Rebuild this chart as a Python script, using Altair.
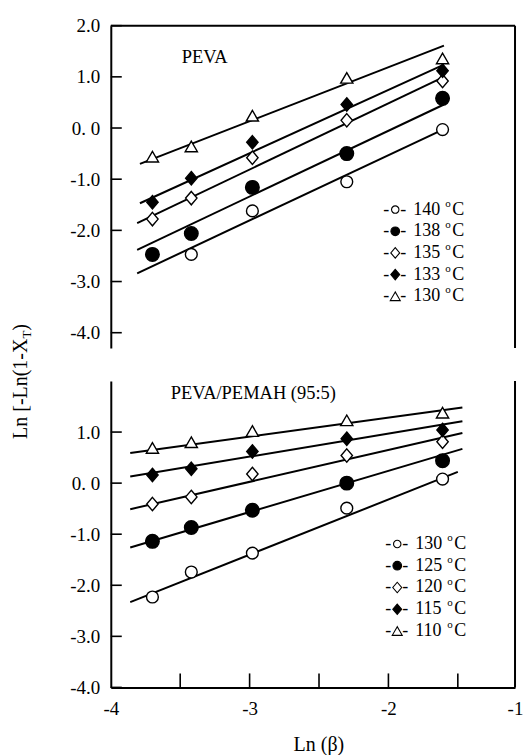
import altair as alt
import pandas as pd

# ---------------- data ----------------
ln_beta = [-3.70, -3.42, -2.98, -2.30, -1.61]

peva_temps = ["140", "138", "135", "133", "130"]
peva_140 = [None, -2.47, -1.62, -1.05, -0.03]
peva_138 = [-2.47, -2.06, -1.16, -0.50, 0.58]
peva_135 = [-1.78, -1.37, -0.58, 0.15, 0.92]
peva_133 = [-1.45, -0.98, -0.28, 0.46, 1.12]
peva_130 = [-0.56, -0.36, 0.24, 0.98, 1.36]
peva_fit_x_start = [-3.81, -3.81, -3.81, -3.79, -3.79]
peva_fit_y_start = [-2.84, -2.38, -1.86, -1.47, -0.70]
peva_fit_x_end = [-1.60, -1.60, -1.60, -1.60, -1.60]
peva_fit_y_end = [-0.02, 0.46, 1.00, 1.24, 1.61]

blend_temps = ["130", "125", "120", "115", "110"]
blend_130 = [-2.23, -1.74, -1.37, -0.49, 0.08]
blend_125 = [-1.14, -0.87, -0.53, 0.00, 0.44]
blend_120 = [-0.41, -0.27, 0.18, 0.54, 0.81]
blend_115 = [0.16, 0.28, 0.62, 0.87, 1.04]
blend_110 = [0.69, 0.80, 1.02, 1.23, 1.38]
blend_fit_x_start = [-3.86, -3.86, -3.86, -3.86, -3.86]
blend_fit_y_start = [-2.33, -1.26, -0.51, 0.13, 0.59]
blend_fit_x_end = [-1.50, -1.46, -1.46, -1.46, -1.46]
blend_fit_y_end = [0.22, 0.67, 0.98, 1.21, 1.48]

x_label_values = [-4, -3, -2, -1]
x_minor_ticks = [-3.5, -3, -2.5, -2, -1.5]
peva_y_ticks = [2, 1, 0, -1, -2, -3, -4]
blend_y_ticks = [1, 0, -1, -2, -3, -4]

# ---------------- styling ----------------
FONT = "Liberation Serif"
W = 405
TOP_H = 323
BOT_H = 307
DIAMOND = "M0,-1L0.85,0L0,1L-0.85,0Z"
STYLES = [
    dict(shape="circle", fill="white", size=140, lsize=55),
    dict(shape="circle", fill="black", size=185, lsize=75),
    dict(shape=DIAMOND, fill="white", size=180, lsize=110),
    dict(shape=DIAMOND, fill="black", size=180, lsize=110),
    dict(shape="triangle-up", fill="white", size=150, lsize=100),
]
X_SCALE = alt.Scale(domain=[-4, -1.5, -1], range=[0, 347.7, W], nice=False, zero=False)
YLBL = "datum.value == 0 ? '0. 0' : (datum.value < 0 ? '-' : '') + format(abs(datum.value), '.1f')"
XLBL = "(datum.value < 0 ? '-' : '') + format(abs(datum.value), 'd')"
ONE = pd.DataFrame({"a": [0]})
AXIS_STYLE = dict(
    labelFont=FONT, labelFontSize=19, labelColor="black",
    titleFont=FONT, titleFontSize=20, titleColor="black", titleFontWeight="normal",
    domainColor="black", domainWidth=2, grid=False, ticks=False,
    labelFlush=False, labelOverlap=False,
)


def txt(text, x, y, size=18, align="left", baseline="middle", angle=0, color="black"):
    kw = dict(text=text, font=FONT, fontSize=size, align=align, baseline=baseline, color=color)
    if angle:
        kw["angle"] = angle
    return alt.Chart(ONE).mark_text(**kw).encode(x=alt.value(x), y=alt.value(y))


def make_panel(temps, ys, fx0, fy0, fx1, fy1, y_dom, height, yticks, title_text,
               title_x, title_y, leg_x, leg_y0, leg_step, top_panel):
    rows = []
    for i, series in enumerate(ys):
        for xv, yv in zip(ln_beta, series):
            if yv is not None:
                rows.append({"s": i, "x": xv, "y": yv})
    pts = pd.DataFrame(rows)
    lines = pd.DataFrame(
        [{"s": i, "x": fx0[i], "y": fy0[i]} for i in range(5)]
        + [{"s": i, "x": fx1[i], "y": fy1[i]} for i in range(5)]
    )
    ysc = alt.Scale(domain=y_dom, nice=False, zero=False)
    yaxis = alt.Axis(values=yticks, labelExpr=YLBL, title=None, labelPadding=11, **AXIS_STYLE)
    if top_panel:
        xaxis = None
    else:
        xaxis = alt.Axis(values=x_label_values, labelExpr=XLBL, title="Ln (β)",
                         labelPadding=12, titleX=208, titleY=63,
                         titleBaseline="alphabetic", **AXIS_STYLE)

    def X(f):
        return alt.X(f, type="quantitative", scale=X_SCALE, axis=xaxis)

    def Y(f):
        return alt.Y(f, type="quantitative", scale=ysc, axis=yaxis)

    layers = []
    layers.append(
        alt.Chart(lines).mark_line(color="black", strokeWidth=2).encode(
            x=X("x"), y=Y("y"), detail="s:N")
    )
    for i in range(5):
        st = STYLES[i]
        layers.append(
            alt.Chart(pts[pts.s == i]).mark_point(
                shape=st["shape"], filled=True, fill=st["fill"], stroke="black",
                strokeWidth=1.4, size=st["size"], opacity=1
            ).encode(x=X("x"), y=Y("y"))
        )
    # inward y ticks
    layers.append(
        alt.Chart(pd.DataFrame({"v": yticks})).mark_rule(color="black", strokeWidth=1.6)
        .encode(y=Y("v"), x=alt.value(0), x2=alt.value(11))
    )
    # right border
    layers.append(
        alt.Chart(ONE).mark_rule(color="black", strokeWidth=2)
        .encode(x=alt.value(W), y=alt.value(0), y2=alt.value(height))
    )
    if top_panel:
        layers.append(
            alt.Chart(ONE).mark_rule(color="black", strokeWidth=2)
            .encode(x=alt.value(0), x2=alt.value(W), y=alt.value(0))
        )
    else:
        layers.append(
            alt.Chart(pd.DataFrame({"v": x_minor_ticks})).mark_rule(color="black", strokeWidth=1.6)
            .encode(x=X("v"), y=alt.value(height), y2=alt.value(height - 14))
        )
    # panel label
    layers.append(txt(title_text, title_x, title_y, size=18.5))
    # legend
    for i in range(5):
        st = STYLES[i]
        yy = leg_y0 + i * leg_step
        layers.append(txt("-", leg_x, yy))
        layers.append(
            alt.Chart(ONE).mark_point(
                shape=st["shape"], filled=True, fill=st["fill"], stroke="black",
                strokeWidth=1.1, size=st["lsize"], opacity=1
            ).encode(x=alt.value(leg_x + 12), y=alt.value(yy))
        )
        layers.append(txt("-", leg_x + 17, yy))
        layers.append(txt(temps[i], leg_x + 30, yy))
        layers.append(txt("o", leg_x + 62, yy - 6, size=11))
        layers.append(txt("C", leg_x + 69, yy))
    if top_panel:
        # y axis title spanning both panels (rotated)
        layers.append(txt("Ln [-Ln(1-X", -84, 414, size=20, baseline="alphabetic", angle=270))
        layers.append(txt("T", -80, 313.5, size=13, baseline="alphabetic", angle=270))
        layers.append(txt(")", -84, 305.6, size=20, baseline="alphabetic", angle=270))
        # invisible anchor fixing the page origin
        layers.append(
            alt.Chart(ONE).mark_rule(color="white", strokeWidth=1)
            .encode(x=alt.value(-110), x2=alt.value(-110), y=alt.value(-24))
        )
    return alt.layer(*layers).properties(width=W, height=height)


top = make_panel(
    peva_temps, [peva_140, peva_138, peva_135, peva_133, peva_130],
    peva_fit_x_start, peva_fit_y_start, peva_fit_x_end, peva_fit_y_end,
    [-4.3, 2.0], TOP_H, peva_y_ticks, "PEVA", 71, 31, 273, 184.3, 21.7, True,
)
bottom = make_panel(
    blend_temps, [blend_130, blend_125, blend_120, blend_115, blend_110],
    blend_fit_x_start, blend_fit_y_start, blend_fit_x_end, blend_fit_y_end,
    [-4.0, 2.0], BOT_H, blend_y_ticks, "PEVA/PEMAH (95:5)", 60, 12, 275, 163.3, 21.8, False,
)

chart = (
    alt.vconcat(top, bottom, spacing=33, bounds="flush")
    .properties(padding={"left": 0, "top": 0, "right": 0, "bottom": 0}, background="white")
    .configure_view(stroke=None)
    .configure_axis(**AXIS_STYLE)
)

chart.save("out.html", embed_options={"renderer": "svg", "actions": False})
